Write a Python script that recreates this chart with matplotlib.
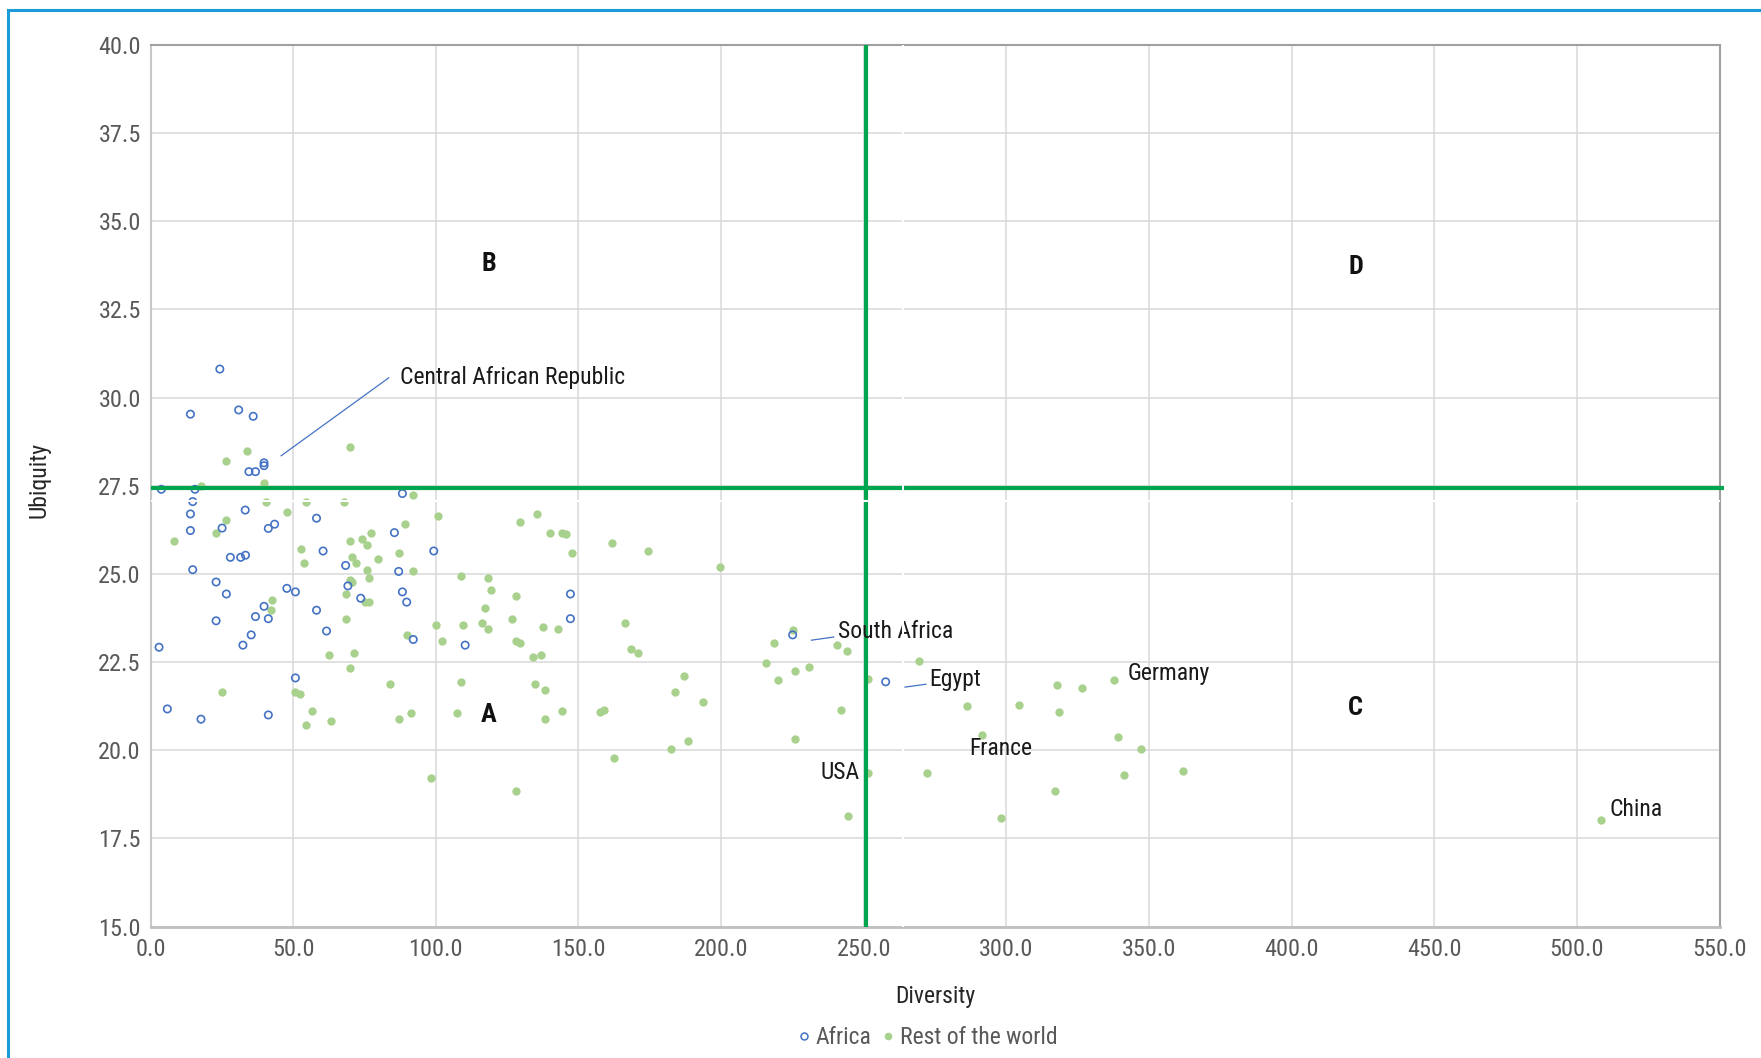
import numpy as np
import matplotlib
matplotlib.use("Agg")
import matplotlib.pyplot as plt
from matplotlib.lines import Line2D
from matplotlib import font_manager

# ---------------- data ----------------
africa_x = [24.3, 14.0, 30.9, 36.0, 39.8, 39.8, 34.5, 36.8, 3.8, 15.6, 14.8, 14.0, 14.0, 33.2,
            25.1, 41.3, 43.5, 58.2, 88.3, 85.5, 28.0, 31.6, 33.3, 14.8, 60.5, 68.4, 99.3, 87.0,
            23.0, 26.6, 47.8, 50.8, 69.2, 73.7, 88.3, 89.8, 39.8, 36.8, 41.3, 58.2, 23.0, 35.3,
            32.4, 61.7, 92.1, 110.3, 3.0, 50.8, 5.9, 17.7, 41.3, 147.2, 147.2, 225.1, 257.7]
africa_y = [30.81, 29.53, 29.65, 29.47, 28.15, 28.07, 27.90, 27.90, 27.40, 27.40, 27.05, 26.70,
            26.23, 26.81, 26.30, 26.29, 26.41, 26.58, 27.28, 26.17, 25.47, 25.47, 25.53, 25.12,
            25.65, 25.24, 25.65, 25.07, 24.77, 24.43, 24.59, 24.49, 24.66, 24.31, 24.49, 24.20,
            24.08, 23.79, 23.73, 23.97, 23.67, 23.27, 22.98, 23.38, 23.14, 22.98, 22.92, 22.05,
            21.17, 20.88, 21.00, 24.43, 23.73, 23.27, 21.94]

row_x = [26.6, 34.0, 69.9, 39.8, 17.7, 40.6, 54.4, 67.9, 91.9,
         8.2, 23.0, 26.6, 47.8, 100.8, 89.1, 77.3, 74.3, 69.9, 75.8, 52.9, 53.8, 70.7, 72.2,
         79.6, 87.0, 75.8, 76.6, 92.1, 69.9, 70.7, 68.4, 42.7, 42.1, 75.1, 76.6, 68.4, 89.8,
         62.6, 71.4, 69.9, 84.0, 25.1, 50.8, 52.3, 56.7, 54.4, 63.3, 87.0, 91.3, 98.5, 100.0,
         102.3, 109.0, 109.7, 109.0, 107.5, 118.4, 119.2, 117.1, 116.3, 118.4, 128.1, 126.6,
         128.1, 129.6, 134.0, 137.0, 134.8, 138.4, 144.2, 138.4, 128.1, 129.6, 135.5, 139.9,
         144.2, 145.7, 147.8, 137.6, 142.7,
         157.5, 159.0, 161.8, 174.5, 199.5, 166.4, 168.5, 170.8, 162.6, 187.0, 184.0, 193.5,
         182.5, 188.3, 215.6, 218.5, 225.1, 220.0, 225.9, 231.0, 240.6, 244.2, 242.2, 225.9,
         244.4, 251.6, 251.6, 269.4, 286.3, 291.4, 272.3, 298.1, 304.5, 317.8, 318.5, 326.6,
         337.6, 339.1, 347.2, 341.4, 361.8, 317.0, 508.4]
row_y = [28.19, 28.48, 28.60, 27.57, 27.48, 27.05, 27.05, 27.05, 27.23,
         25.94, 26.17, 26.52, 26.75, 26.64, 26.41, 26.17, 26.00, 25.94, 25.82, 25.71, 25.30,
         25.47, 25.30, 25.42, 25.60, 25.12, 24.89, 25.07, 24.84, 24.77, 24.43, 24.26, 23.98,
         24.20, 24.20, 23.73, 23.28, 22.69, 22.75, 22.34, 21.88, 21.64, 21.64, 21.58, 21.12,
         20.71, 20.82, 20.88, 21.06, 19.20, 23.56, 23.10, 24.94, 23.56, 21.93, 21.06, 24.89,
         24.55, 24.02, 23.62, 23.45, 24.37, 23.73, 23.10, 23.04, 22.63, 22.69, 21.88, 21.70,
         21.12, 20.88, 18.85, 26.46, 26.70, 26.17, 26.17, 26.12, 25.60, 23.50, 23.45,
         21.08, 21.13, 25.88, 25.65, 25.19, 23.62, 22.87, 22.75, 19.79, 22.11, 21.65, 21.36,
         20.03, 20.26, 22.47, 23.05, 23.40, 22.00, 22.24, 22.35, 22.98, 22.81, 21.13, 20.32,
         18.12, 22.01, 19.34, 22.52, 21.25, 20.44, 19.34, 18.07, 21.29, 21.86, 21.07, 21.75,
         21.99, 20.38, 20.03, 19.29, 19.40, 18.84, 18.03]

diversity_threshold = 250.7
ubiquity_threshold = 27.45

x_ticks = [0, 50, 100, 150, 200, 250, 300, 350, 400, 450, 500, 550]
y_ticks = [15.0, 17.5, 20.0, 22.5, 25.0, 27.5, 30.0, 32.5, 35.0, 37.5, 40.0]

quadrant_labels = ["A", "B", "C", "D"]
country_labels = ["Central African Republic", "South Africa", "Egypt", "USA",
                  "France", "Germany", "China"]

# ---------------- style ----------------
installed = {f.name for f in font_manager.fontManager.ttflist}
candidates = ["Roboto Condensed", "Liberation Sans Narrow", "DejaVu Sans Condensed",
              "Open Sans Condensed", "Noto Sans Condensed", "Roboto"]
families = [f for f in candidates if f in installed] + ["DejaVu Sans"]
plt.rcParams["font.family"] = families
cond_stretch = "condensed" if families[0] in ("Roboto", "Noto Sans", "DejaVu Sans") else "normal"
plt.rcParams["font.stretch"] = cond_stretch

BLUE = "#4472C4"
GREEN_PT = "#A9D18E"
GREEN_LINE = "#00A64F"
TICK_C = "#595959"
FS = 17
FS_TICK = 17.5

W, H = 1761, 1058
fig = plt.figure(figsize=(W / 100, H / 100), dpi=100)
L, R, T, B = 150.5, 1719.5, 45, 926.5
ax = fig.add_axes([L / W, 1 - B / H, (R - L) / W, (B - T) / H])

ax.set_xlim(0, 550)
ax.set_ylim(15, 40)
ax.set_xticks(x_ticks)
ax.set_xticklabels([f"{v:.1f}" for v in x_ticks])
ax.set_yticks(y_ticks)
ax.set_yticklabels([f"{v:.1f}" for v in y_ticks])
ax.tick_params(axis="both", length=0, labelsize=FS_TICK, labelcolor=TICK_C)
ax.tick_params(axis="x", pad=8)
ax.tick_params(axis="y", pad=7)
ax.grid(True, color="#D9D9D9", lw=1.1)
ax.set_axisbelow(True)

for side, col, lw in [("top", "#A0A0A0", 1.5), ("right", "#A0A0A0", 1.5),
                      ("left", "#C8C8C8", 1.5), ("bottom", "#BFBFBF", 2.0)]:
    ax.spines[side].set_color(col)
    ax.spines[side].set_linewidth(lw)

ax.scatter(row_x, row_y, s=36, color=GREEN_PT, linewidths=0, zorder=3,
           label="Rest of the world")
ax.scatter(africa_x, africa_y, s=28, facecolors="none", edgecolors=BLUE,
           linewidths=1.2, zorder=3.1, label="Africa")

# threshold lines
ax.plot([diversity_threshold, diversity_threshold], [15, 40], color=GREEN_LINE,
        lw=3, zorder=4, solid_capstyle="butt")
ax.plot([0, 551.5], [ubiquity_threshold, ubiquity_threshold], color=GREEN_LINE,
        lw=3, zorder=4, solid_capstyle="butt", clip_on=False)

# leader lines
for (x0, y0, x1, y1) in [(45.8, 28.35, 83.5, 30.56), (231.7, 23.12, 239.5, 23.21),
                         (264.5, 21.79, 271.8, 21.87)]:
    ax.plot([x0, x1], [y0, y1], color=BLUE, lw=0.9, zorder=5)

# country labels
lab_pos = [(87.4, 30.57, "left"), (240.9, 23.37, "left"), (273.1, 22.0, "left"),
           (248.6, 19.36, "right"), (298.0, 20.05, "center"), (342.5, 22.17, "left"),
           (511.5, 18.31, "left")]
for name, (x, y, ha) in zip(country_labels, lab_pos):
    ax.text(x, y, name, ha=ha, va="center", fontsize=FS, color="#1A1A1A", zorder=6)

# quadrant letters
quad_pos = [(118.5, 21.0), (118.5, 33.8), (422.4, 21.2), (422.4, 33.7)]
for q, (x, y) in zip(quadrant_labels, quad_pos):
    ax.text(x, y, q, ha="center", va="center", fontsize=19, fontweight="bold",
            color="#111111", zorder=6)

# thin white strips present in the source image
ax.axvline(263.7, color="white", lw=1.5, zorder=10)
ax.axhline(27.07, color="white", lw=1.5, zorder=10)

ax.set_xlabel("Diversity", fontsize=FS, color="#262626", va="center")
ax.xaxis.set_label_coords(0.5, (B - 996) / (B - T))
ax.set_ylabel("Ubiquity", fontsize=FS, color="#262626", va="center")
ax.yaxis.set_label_coords((39 - L) / (R - L), (B - 480) / (B - T))

handles = [Line2D([], [], marker="o", ls="", mfc="none", mec=BLUE, ms=5, mew=1.1),
           Line2D([], [], marker="o", ls="", mfc=GREEN_PT, mec=GREEN_PT, ms=5.5, mew=0)]
fig.legend(handles, ["Africa", "Rest of the world"], loc="center",
           bbox_to_anchor=(926 / W, 1 - 1038 / H), ncol=2, frameon=False,
           fontsize=FS, handletextpad=0.1, columnspacing=0.3, handlelength=0.8,
           labelcolor=TICK_C)

# blue frame of the figure
fig.add_artist(Line2D([8 / W, 8 / W], [0, 1 - 10 / H], color="#1B9BD7", lw=2.2,
                      transform=fig.transFigure))
fig.add_artist(Line2D([8 / W, 1], [1 - 10 / H, 1 - 10 / H], color="#1B9BD7", lw=2.2,
                      transform=fig.transFigure))

fig.savefig("out.png", dpi=100)
